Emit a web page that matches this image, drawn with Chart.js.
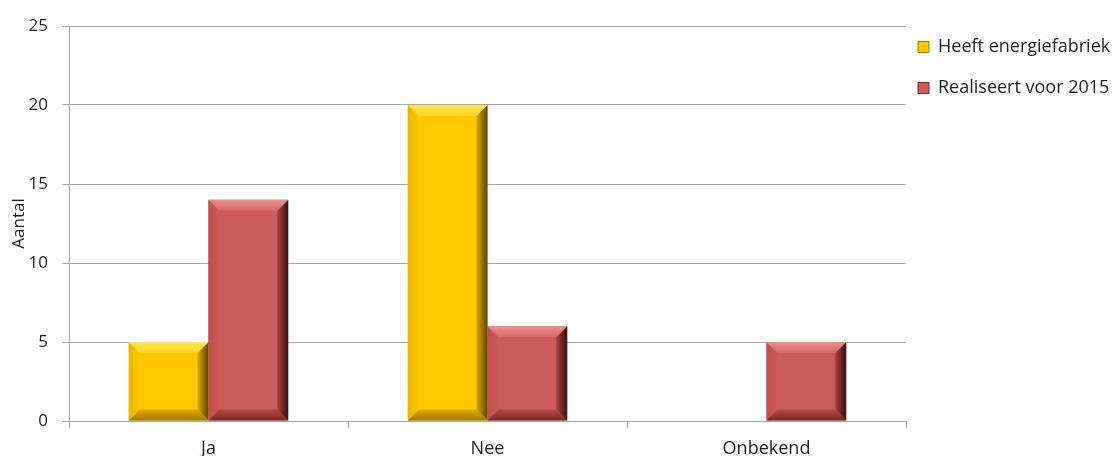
<!DOCTYPE html>
<html>
<head>
<meta charset="utf-8">
<script src="https://cdn.jsdelivr.net/npm/chart.js@4.4.1/dist/chart.umd.min.js"></script>
<style>
  html, body { margin: 0; padding: 0; background: #fff; }
  #wrap { width: 1117px; height: 456px; position: relative; }
</style>
</head>
<body>
<div id="wrap"><canvas id="chart"></canvas></div>
<script>
// data
const categories = ['Ja', 'Nee', 'Onbekend'];
const heeftEnergiefabriek = [5, 20, 0];
const realiseertVoor2015 = [14, 6, 5];
const yTicks = [0, 5, 10, 15, 20, 25];

// kleuren per reeks (vlak + randen van de "bevel")
const geel = { face: '#FFC800', topA: '#FFE55C', topB: '#FFD41E', right: '#5A4200', rightIn: '#D9A800', bottomA: '#E2AA00', bottomB: '#9E7600', leftA: '#EBB400' };
const rood = { face: '#CC5A56', topA: '#E8908C', topB: '#D66A66', right: '#3A0F0E', rightIn: '#A8443F', bottomA: '#B44C48', bottomB: '#7A2826', leftA: '#BC504C' };

const gridKleur = '#a6a6a6';
const tekstKleur = '#1e1e1e';

Chart.defaults.font.family = "'Open Sans', sans-serif";
Chart.defaults.color = tekstKleur;

function vlak(ctx, pts, fill) {
  ctx.beginPath();
  ctx.moveTo(pts[0][0], pts[0][1]);
  for (let k = 1; k < pts.length; k++) ctx.lineTo(pts[k][0], pts[k][1]);
  ctx.closePath();
  ctx.fillStyle = fill;
  ctx.fill();
}

// tekent de schuine randen over elke staaf
const bevelPlugin = {
  id: 'bevel',
  afterDatasetsDraw(chart) {
    const ctx = chart.ctx;
    chart.data.datasets.forEach((ds, i) => {
      const pal = ds.bevel;
      chart.getDatasetMeta(i).data.forEach(bar => {
        const p = bar.getProps(['x', 'y', 'base', 'width'], true);
        const l = p.x - p.width / 2, r = p.x + p.width / 2;
        const t = Math.min(p.y, p.base), b = Math.max(p.y, p.base);
        if (b - t < 1) return;
        const e = Math.min(11, (b - t) / 3, p.width / 4);
        ctx.save();
        // links
        let g = ctx.createLinearGradient(l, 0, l + e, 0);
        g.addColorStop(0, pal.leftA); g.addColorStop(1, pal.face);
        vlak(ctx, [[l, t], [l + e, t + e], [l + e, b - e], [l, b]], g);
        // onder
        g = ctx.createLinearGradient(0, b - e, 0, b);
        g.addColorStop(0, pal.bottomA); g.addColorStop(1, pal.bottomB);
        vlak(ctx, [[l, b], [l + e, b - e], [r - e, b - e], [r, b]], g);
        // rechts
        g = ctx.createLinearGradient(r - e, 0, r, 0);
        g.addColorStop(0, pal.rightIn); g.addColorStop(1, pal.right);
        vlak(ctx, [[r, t], [r, b], [r - e, b - e], [r - e, t + e]], g);
        // boven
        g = ctx.createLinearGradient(0, t, 0, t + e);
        g.addColorStop(0, pal.topA); g.addColorStop(1, pal.topB);
        vlak(ctx, [[l, t], [r, t], [r - e, t + e], [l + e, t + e]], g);
        ctx.restore();
      });
    });
  },
  // legenda iets dichter bij het plotgebied zetten
  afterLayout(chart) {
    const lg = chart.legend;
    if (lg) lg.left = chart.chartArea.right + 12 - lg.options.labels.padding;
  }
};

new Chart(document.getElementById('chart'), {
  type: 'bar',
  data: {
    labels: categories,
    datasets: [
      {
        label: 'Heeft energiefabriek',
        data: heeftEnergiefabriek,
        backgroundColor: geel.face,
        borderColor: geel.right,
        bevel: geel
      },
      {
        label: 'Realiseert voor 2015',
        data: realiseertVoor2015,
        backgroundColor: rood.face,
        borderColor: rood.right,
        bevel: rood
      }
    ]
  },
  options: {
    responsive: true,
    maintainAspectRatio: false,
    animation: false,
    datasets: {
      bar: { barPercentage: 1, categoryPercentage: 2 / 3.5, borderWidth: 0 }
    },
    layout: { padding: { top: 15, left: 0, right: 0, bottom: 0 } },
    plugins: {
      tooltip: { enabled: false },
      legend: {
        position: 'right',
        align: 'start',
        maxWidth: 211,
        labels: {
          font: { size: 18 },
          color: tekstKleur,
          boxWidth: 11,
          boxHeight: 11,
          padding: 23,
          generateLabels(chart) {
            return chart.data.datasets.map((ds, i) => ({
              text: ds.label,
              fillStyle: ds.backgroundColor,
              strokeStyle: ds.bevel.bottomB,
              lineWidth: 1,
              fontColor: tekstKleur,
              hidden: false,
              datasetIndex: i
            }));
          }
        }
      }
    },
    scales: {
      x: {
        grid: { offset: true, drawOnChartArea: false, color: gridKleur, tickLength: 7 },
        border: { color: gridKleur },
        ticks: { font: { size: 18 }, padding: 10, color: tekstKleur },
        afterFit(s) { s.height = 35; }
      },
      y: {
        min: 0,
        max: 25,
        afterBuildTicks(s) { s.ticks = yTicks.map(v => ({ value: v })); },
        grid: { color: gridKleur, tickLength: 7 },
        border: { color: gridKleur },
        ticks: { font: { size: 17 }, padding: 14, color: tekstKleur },
        title: {
          display: true,
          text: 'Aantal',
          font: { size: 17 },
          color: tekstKleur,
          padding: { top: 9, bottom: 0 }
        },
        afterFit(s) { s.width = 69; s.paddingTop = 26; }
      }
    }
  },
  plugins: [bevelPlugin]
});
</script>
</body>
</html>
